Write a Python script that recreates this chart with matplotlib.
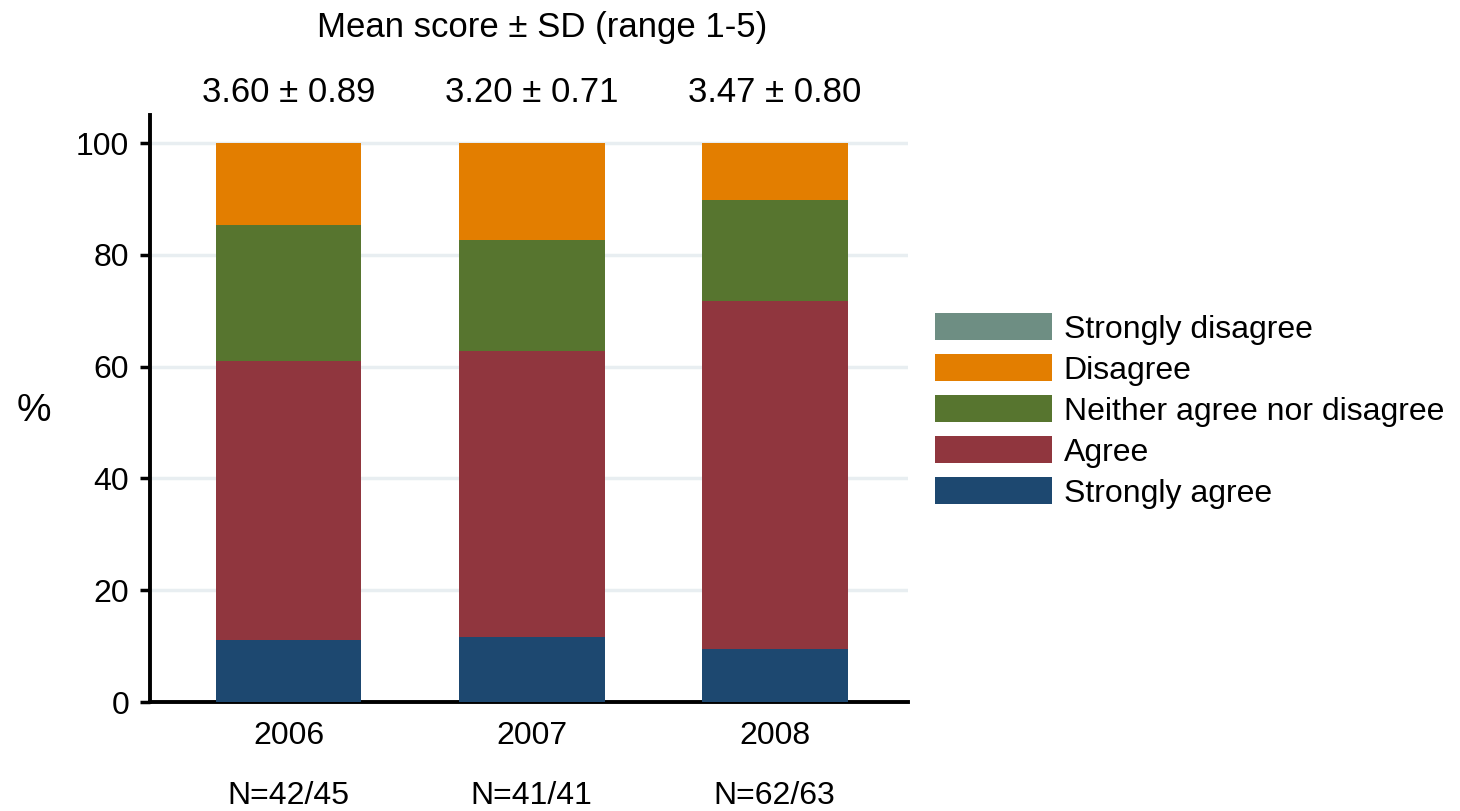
import matplotlib
matplotlib.use("Agg")
import matplotlib.pyplot as plt
import numpy as np
from matplotlib.patches import Patch

plt.rcParams["font.family"] = ["Liberation Sans", "DejaVu Sans"]

# survey responses (% of respondents) per year
years = ["2006", "2007", "2008"]
n_labels = ["N=42/45", "N=41/41", "N=62/63"]
mean_sd = [("3.60", "0.89"), ("3.20", "0.71"), ("3.47", "0.80")]

strongly_agree = [11.1, 11.6, 9.5]
agree = [49.9, 51.2, 62.3]
neither = [24.3, 19.8, 18.0]
disagree = [14.7, 17.4, 10.2]
strongly_disagree = [0.0, 0.0, 0.0]

categories = ["Strongly agree", "Agree", "Neither agree nor disagree",
              "Disagree", "Strongly disagree"]
colors = ["#1d4870", "#90363e", "#57752f", "#e37e00", "#6e8e83"]
series = [strongly_agree, agree, neither, disagree, strongly_disagree]

FS_TICK = 23
FS_HEAD = 25
FS_LEG = 23

fig = plt.figure(figsize=(14.6, 8.11), dpi=100)
ax = fig.add_axes([0.1027, 0.1344, 0.5195, 0.7236])

x = np.arange(len(years))
bottom = np.zeros(len(years))
for vals, col in zip(series, colors):
    ax.bar(x, vals, 0.6, bottom=bottom, color=col, edgecolor="none", zorder=3)
    bottom += np.array(vals)

ax.set_xlim(-0.57, 2.55)
ax.set_ylim(0, 105)
ax.set_yticks([0, 20, 40, 60, 80, 100])
ax.yaxis.grid(True, color="#e8eef1", lw=2.5, zorder=0)
ax.set_axisbelow(True)
for s in ["top", "right"]:
    ax.spines[s].set_visible(False)
for s in ["left", "bottom"]:
    ax.spines[s].set_linewidth(2.8)
ax.tick_params(axis="y", labelsize=FS_TICK, width=2.5, length=7, pad=8)
ax.set_xticks(x)
ax.set_xticklabels(years)
ax.tick_params(axis="x", labelsize=FS_TICK, length=0, pad=14)

fig.text(34 / 1460, 1 - 411 / 811, "%", fontsize=28, ha="center", va="center")

# N labels below the years
for xi, nl in zip(x, n_labels):
    ax.annotate(nl, (xi, 0), xycoords=("data", "axes fraction"),
                xytext=(0, 1 - 796 / 811), textcoords=("offset pixels", "figure fraction"),
                ha="center", va="center", fontsize=FS_TICK, annotation_clip=False)

# mean score header
fig.text(0.371, 1 - 27 / 811, "Mean score \u00b1 SD (range 1-5)",
         fontsize=FS_HEAD, ha="center", va="center")
for xi, (m, sd) in zip(x, mean_sd):
    ax.annotate(f"{m} \u00b1 {sd}", (xi, 1), xycoords=("data", "axes fraction"),
                xytext=(0, 1 - 92 / 811), textcoords=("offset pixels", "figure fraction"),
                ha="center", va="center", fontsize=FS_HEAD, annotation_clip=False)

handles = [Patch(facecolor=c) for c in colors][::-1]
labels = categories[::-1]
fig.legend(handles, labels, loc="center left", bbox_to_anchor=(935 / 1460, 1 - 411 / 811),
           frameon=False, fontsize=FS_LEG, handlelength=3.65, handleheight=0.92,
           handletextpad=0.38, labelspacing=0.3, borderpad=0, borderaxespad=0)

fig.savefig("out.png", dpi=100)
